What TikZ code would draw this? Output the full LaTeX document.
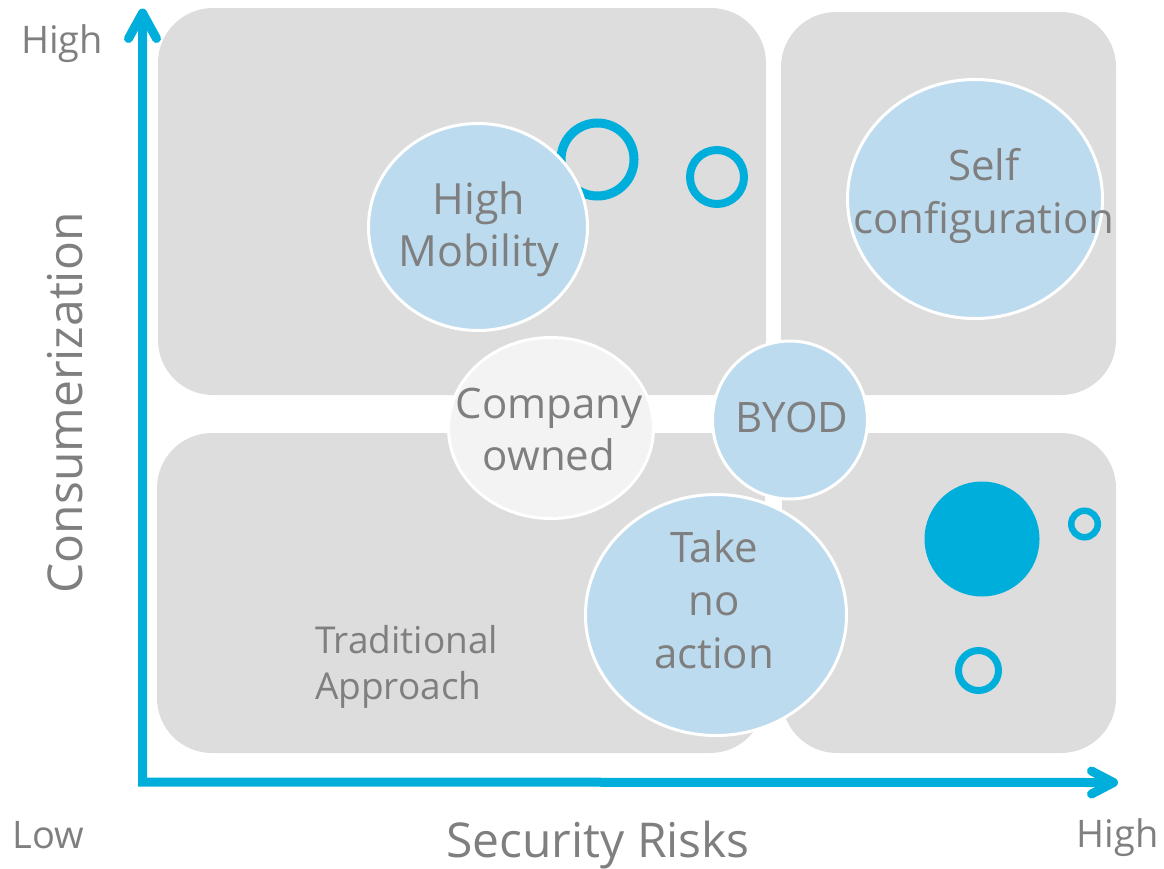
\documentclass[tikz,border=0pt]{standalone}
\usepackage{fontspec}
\setmainfont{Open Sans}
\usetikzlibrary{shapes.geometric}
\definecolor{axiscyan}{RGB}{0,174,219}
\definecolor{bubbleblue}{RGB}{189,219,238}
\definecolor{companygray}{RGB}{243,243,243}
\definecolor{textgray}{RGB}{127,127,127}
\definecolor{panelgray}{RGB}{221,221,221}
\tikzset{
  panel/.style={fill=panelgray, draw=none, rounded corners=55pt},
  axisline/.style={draw=axiscyan, line width=9pt},
  bubble/.style={ellipse, draw=white, line width=3pt, fill=bubbleblue, inner sep=0pt},
  ringmark/.style={circle, draw=axiscyan, inner sep=0pt},
  lbl/.style={text=textgray, inner sep=0pt, align=center},
}
\newcommand{\fsz}[2]{\fontsize{#1}{#2}\selectfont}
\begin{document}
\begin{tikzpicture}[x=1pt,y=-1pt]
\useasboundingbox (0,0) rectangle (1164,868);
% quadrant panels
\fill[panel] (158,8) rectangle (766,395);
\fill[panel] (781,12) rectangle (1116,395);
\fill[panel] (157,433) rectangle (765,753);
\fill[panel] (782,433) rectangle (1116,753);
% axes
\coordinate (origin) at (142.5,782);
\coordinate (ytip) at (142.5,13);
\coordinate (xtip) at (1113.5,782.5);
\coordinate (ya) at (128.5,38.5);
\coordinate (yb) at (156.5,38.5);
\coordinate (xa) at (1091.5,771);
\coordinate (xb) at (1091.5,794);
\draw[axisline, line join=miter] (ytip) -- (origin) -- (xtip);
\draw[axisline, line cap=round, line join=round] (ya) -- (ytip) -- (yb);
\draw[axisline, line cap=round, line join=round] (xa) -- (xtip) -- (xb);
% rings and dots
\node[ringmark, line width=9pt, minimum size=73pt] (ring1) at (597.5,159.5) {};
\node[ringmark, line width=8pt, minimum size=54pt] (ring2) at (717,177) {};
\node[circle, fill=axiscyan, inner sep=0pt, minimum size=115pt] (dot) at (982,539) {};
\node[ringmark, line width=6.5pt, minimum size=26.5pt] (ring3) at (1084.5,524) {};
\node[ringmark, line width=7pt, minimum size=40pt] (ring4) at (978.5,670.5) {};
% bubbles
\node[bubble, minimum width=219pt, minimum height=207pt] (mob) at (478,227) {};
\node[bubble, minimum width=255pt, minimum height=239pt] (self) at (975,199) {};
\node[bubble, fill=companygray, minimum width=205pt, minimum height=181pt] (comp) at (551,428) {};
\node[bubble, minimum width=155pt, minimum height=158pt] (byod) at (790,420) {};
\node[bubble, minimum width=261pt, minimum height=241pt] (take) at (716,615) {};
% bubble labels
\node[lbl, font=\fsz{43}{52}] (tmob) at (479,229.5) {High\\Mobility};
\node[lbl, font=\fsz{42}{53}] (tself) at (984,195.5) {Self\\configuration};
\node[lbl, font=\fsz{42}{52}] (tcomp) at (549,429) {Company\\owned};
\node[lbl, font=\fsz{42}{52}, anchor=base] (tbyod) at (792,432) {BYOD};
\node[lbl, font=\fsz{42}{53}] (ttake) at (714,600) {Take\\no\\action};
\node[lbl, font=\fsz{37}{46}, align=left, anchor=west] (ttrad) at (315,666.5) {Traditional\\Approach};
% axis labels
\node[lbl, font=\fsz{38}{46}, anchor=base] (yhigh) at (62,53) {High};
\node[lbl, font=\fsz{38}{46}, anchor=base] (xlow) at (48.5,848) {Low};
\node[lbl, font=\fsz{38}{46}, anchor=base] (xhigh) at (1117.5,847) {High};
\node[lbl, font=\fsz{48}{58}, anchor=base] (xtitle) at (598,857) {Security Risks};
\node[lbl, font=\fsz{48}{58}, anchor=base, rotate=90] (ytitle) at (82,403) {Consumerization};
\end{tikzpicture}
\end{document}
